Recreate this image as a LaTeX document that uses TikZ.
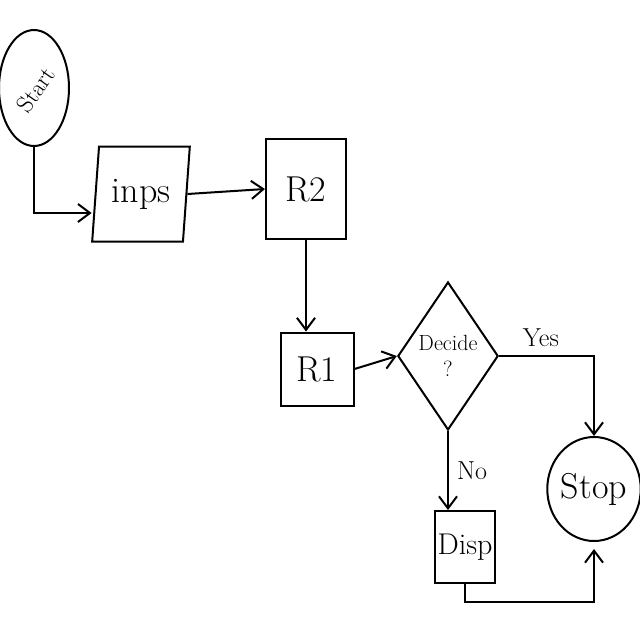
\documentclass[tikz,border=0pt]{standalone}
\usetikzlibrary{shapes.geometric,arrows.meta,calc}
\begin{document}
\begin{tikzpicture}[x=1pt,y=-1pt,
  every node/.style={line width=2pt, inner sep=0pt},
  hand/.style={line width=2pt, draw=black},
  term/.style={hand, ellipse},
  proc/.style={hand, rectangle},
  io/.style={hand, trapezium, trapezium left angle=81, trapezium right angle=99, trapezium stretches=true},
  dec/.style={hand, diamond, align=center},
  arr/.style={line width=2pt, -{Straight Barb[length=12pt,width=18pt]}},
  lbl/.style={font=\fontsize{26}{30}\selectfont},
  big/.style={font=\fontsize{36}{40}\selectfont}
]
\useasboundingbox (0,0) rectangle (640,640);
\fill[white] (0,0) rectangle (640,640);

\node[term, minimum width=70, minimum height=116] (start) at (34,88) {};
\node[font=\fontsize{24}{26}\selectfont, rotate=55] (starttxt) at (36,90) {Start};
\node[io, minimum width=98, minimum height=95, big] (inps) at (141,194) {inps};
\node[proc, minimum width=80, minimum height=100, big] (r2) at (306,189) {R2};
\node[proc, minimum width=73, minimum height=73, big] (r1) at (317,369) {R1};
\node[dec, minimum width=90, minimum height=148, font=\fontsize{22}{26}\selectfont] (dec) at (448,356) {Decide\\?};
\node[proc, minimum width=60, minimum height=72, font=\fontsize{30}{32}\selectfont] (disp) at (465,547) {Disp};
\node[term, minimum width=78, minimum height=104, big] (stop) at (594,489) {Stop};

\draw[arr] (start.south) |- ($(inps.west)+(-3,19)$);
\draw[arr] (inps.east) -- (r2.west);
\draw[arr] (r2.south) -- (r2.south |- r1.north);
\draw[arr] (r1.east) -- (dec.west);
\draw[arr] (dec.east) -| node[pos=0.22, above=8pt, lbl] (yes) {Yes} (stop.north);
\draw[arr] (dec.south) -- node[right=8pt, lbl] (no) {No} (dec.south |- disp.north);
\draw[arr] (disp.south) -- ++(0,18) -| ($(stop.south)+(0,7)$);
\end{tikzpicture}
\end{document}
